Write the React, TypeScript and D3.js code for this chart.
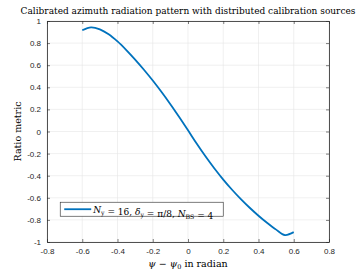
import React, { useEffect, useRef } from 'react';
import * as d3 from 'd3';

// offsets psi - psi0 (radian)
const offsets = [
  -0.6, -0.55, -0.5, -0.45, -0.4, -0.35, -0.3, -0.25, -0.2, -0.15, -0.1, -0.05, 0,
  0.05, 0.1, 0.15, 0.2, 0.25, 0.3, 0.35, 0.4, 0.45, 0.5, 0.55, 0.6,
];
const ratio = [
  0.916, 0.943, 0.925, 0.88, 0.815, 0.737, 0.651, 0.559, 0.461, 0.357, 0.247, 0.131, 0.011,
  -0.111, -0.227, -0.335, -0.435, -0.527, -0.612, -0.69, -0.762, -0.828, -0.888, -0.937, -0.911,
];
const xTicks = [-0.8, -0.6, -0.4, -0.2, 0, 0.2, 0.4, 0.6, 0.8];
const yTicks = [-1, -0.8, -0.6, -0.4, -0.2, 0, 0.2, 0.4, 0.6, 0.8, 1];

const W = 364;
const H = 273;
const margin = { top: 21, right: 35, bottom: 31, left: 47 };
const serif = "'DejaVu Serif', 'Liberation Serif', serif";
const sans = "'Liberation Sans', Arial, sans-serif";

const App = () => {
  const ref = useRef<SVGSVGElement>(null);

  useEffect(() => {
    const svg = d3.select(ref.current);
    svg.selectAll('*').remove();

    const iw = W - margin.left - margin.right;
    const ih = H - margin.top - margin.bottom;

    const x = d3.scaleLinear().domain([-0.8, 0.8]).range([0, iw]);
    const y = d3.scaleLinear().domain([-1, 1]).range([ih, 0]);

    svg.append('rect').attr('width', W).attr('height', H).attr('fill', '#fff');

    const g = svg.append('g').attr('transform', `translate(${margin.left},${margin.top})`);

    // grid
    g.append('g')
      .selectAll('line')
      .data(xTicks)
      .join('line')
      .attr('x1', d => x(d)).attr('x2', d => x(d))
      .attr('y1', 0).attr('y2', ih)
      .attr('stroke', '#e6e6e6').attr('stroke-width', 0.6);
    g.append('g')
      .selectAll('line')
      .data(yTicks)
      .join('line')
      .attr('y1', d => y(d)).attr('y2', d => y(d))
      .attr('x1', 0).attr('x2', iw)
      .attr('stroke', '#e6e6e6').attr('stroke-width', 0.6);

    // axes, matlab-style box with inward ticks
    const fmt = (d: number) => d3.format('')(d).replace('−', '-');
    const xAxis = d3.axisBottom(x).tickValues(xTicks).tickSizeInner(-3).tickSizeOuter(0).tickPadding(6).tickFormat(fmt as any);
    const yAxis = d3.axisLeft(y).tickValues(yTicks).tickSizeInner(-3).tickSizeOuter(0).tickPadding(6).tickFormat(fmt as any);
    const ax = g.append('g').attr('transform', `translate(0,${ih})`).call(xAxis);
    const ay = g.append('g').call(yAxis);
    const ax2 = g.append('g').call(d3.axisTop(x).tickValues(xTicks).tickSizeInner(-3).tickSizeOuter(0).tickFormat(() => ''));
    const ay2 = g.append('g').attr('transform', `translate(${iw},0)`).call(d3.axisRight(y).tickValues(yTicks).tickSizeInner(-3).tickSizeOuter(0).tickFormat(() => ''));
    [ax, ay, ax2, ay2].forEach(a => {
      a.selectAll('path').attr('stroke', '#262626').attr('stroke-width', 0.8);
      a.selectAll('line').attr('stroke', '#262626').attr('stroke-width', 0.6);
      a.selectAll('text').attr('fill', '#262626').style('font-family', sans).style('font-size', '8px');
    });

    // curve
    const line = d3.line<number>()
      .x((_, i) => x(offsets[i]))
      .y(d => y(d))
      .curve(d3.curveCatmullRom);
    g.append('path')
      .datum(ratio)
      .attr('d', line)
      .attr('fill', 'none')
      .attr('stroke', '#0072bd')
      .attr('stroke-width', 1.8);

    // legend
    const lg = g.append('g').attr('transform', `translate(${x(-0.725)},${y(-0.64)})`);
    lg.append('rect')
      .attr('width', 163).attr('height', 14)
      .attr('fill', '#fff').attr('stroke', '#262626').attr('stroke-width', 0.6);
    lg.append('line')
      .attr('x1', 4).attr('x2', 31).attr('y1', 7).attr('y2', 7)
      .attr('stroke', '#0072bd').attr('stroke-width', 1.8);
    const lt = lg.append('text')
      .attr('x', 33).attr('y', 10.5)
      .style('font-family', serif).style('font-size', '9px').attr('fill', '#000');
    const it = (s: string) => lt.append('tspan').style('font-style', 'italic').text(s);
    const sub = (s: string) => {
      lt.append('tspan').attr('dy', 2).style('font-size', '6.2px').text(s);
      lt.append('tspan').attr('dy', -2).text('');
    };
    it('N'); sub('y'); lt.append('tspan').text(' = 16, ');
    it('δ'); sub('y'); lt.append('tspan').text(' = π/8, ');
    it('N'); sub('BS'); lt.append('tspan').text(' = 4');

    // title and labels
    svg.append('text')
      .attr('x', margin.left + iw / 2).attr('y', 14)
      .attr('text-anchor', 'middle')
      .style('font-family', serif).style('font-size', '9px')
      .text('Calibrated azimuth radiation pattern with distributed calibration sources');

    const xl = svg.append('text')
      .attr('x', margin.left + iw / 2).attr('y', 267)
      .attr('text-anchor', 'middle')
      .style('font-family', serif).style('font-size', '9.5px');
    xl.append('tspan').style('font-style', 'italic').text('ψ');
    xl.append('tspan').text(' − ');
    xl.append('tspan').style('font-style', 'italic').text('ψ');
    xl.append('tspan').attr('dy', 2).style('font-size', '6.5px').text('0');
    xl.append('tspan').attr('dy', -2).text(' in radian');

    svg.append('text')
      .attr('transform', `translate(21,${margin.top + ih / 2}) rotate(-90)`)
      .attr('text-anchor', 'middle')
      .style('font-family', serif).style('font-size', '9.5px')
      .text('Ratio metric');
  }, []);

  return (
    <svg
      ref={ref}
      width={W}
      height={H}
      style={{ position: 'absolute', left: 0, top: 0 }}
    />
  );
};

export default App;
